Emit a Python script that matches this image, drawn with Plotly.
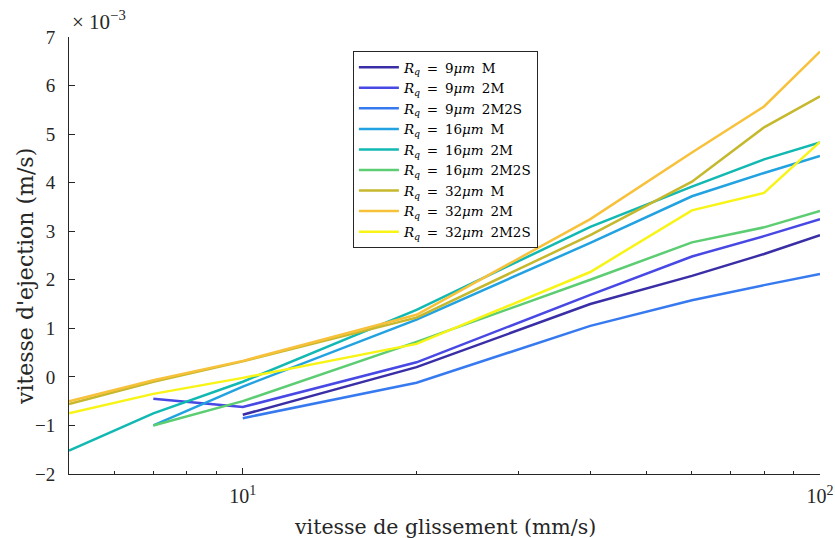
import plotly.graph_objects as go

# slip speed (mm/s)
x_all = [5, 7, 10, 20, 40, 60, 80, 100]
x_7 = [7, 10, 20, 40, 60, 80, 100]
x_10 = [10, 20, 40, 60, 80, 100]

# ejection speed (x 1e-3 m/s)
rq9_M = [-0.78, 0.2, 1.5, 2.08, 2.53, 2.92]
rq9_2M = [-0.45, -0.62, 0.3, 1.69, 2.48, 2.9, 3.25]
rq9_2M2S = [-0.85, -0.12, 1.05, 1.58, 1.89, 2.12]
rq16_M = [-1.0, -0.2, 1.18, 2.76, 3.72, 4.2, 4.55]
rq16_2M = [-1.52, -0.75, -0.1, 1.38, 3.09, 3.92, 4.48, 4.83]
rq16_2M2S = [-1.0, -0.5, 0.72, 2.0, 2.77, 3.08, 3.42]
rq32_M = [-0.56, -0.1, 0.32, 1.22, 2.92, 4.02, 5.14, 5.78]
rq32_2M = [-0.5, -0.07, 0.33, 1.28, 3.25, 4.62, 5.57, 6.7]
rq32_2M2S = [-0.75, -0.35, -0.02, 0.68, 2.16, 3.43, 3.79, 4.84]

series = [
    ("9", "M", x_10, rq9_M, "#3a2ea6"),
    ("9", "2M", x_7, rq9_2M, "#4848e4"),
    ("9", "2M2S", x_10, rq9_2M2S, "#377af0"),
    ("16", "M", x_7, rq16_M, "#22a2e0"),
    ("16", "2M", x_all, rq16_2M, "#12b8b2"),
    ("16", "2M2S", x_7, rq16_2M2S, "#5ccd72"),
    ("32", "M", x_all, rq32_M, "#c6b82c"),
    ("32", "2M", x_all, rq32_2M, "#f8c13a"),
    ("32", "2M2S", x_all, rq32_2M2S, "#f8f416"),
]

y_ticks = [-2, -1, 0, 1, 2, 3, 4, 5, 6, 7]
x_ticks = [10, 100]
x_ticklabels = ["10<sup>1</sup>", "10<sup>2</sup>"]
x_minor = [6, 7, 8, 9, 20, 30, 40, 50, 60, 70, 80, 90]

TICKFONT = "Liberation Serif"
TEXTFONT = "DejaVu Serif"
AX = "#262626"
SP = "\u2002"

fig = go.Figure()
for rq, kind, xs, ys, col in series:
    fig.add_trace(go.Scatter(
        x=xs, y=ys, mode="lines",
        line=dict(color=col, width=2.5),
        name=f"<i>R</i><sub><i>q</i></sub>{SP}={SP}{rq}<i>μm</i>{SP}{kind}",
    ))

fig.update_layout(
    width=835, height=538,
    margin=dict(l=69, r=15, t=37, b=64),
    paper_bgcolor="white", plot_bgcolor="white",
    font=dict(family=TICKFONT, size=19, color=AX),
    showlegend=True,
    legend=dict(
        x=0.378, y=0.968, xanchor="left", yanchor="top",
        bgcolor="white", bordercolor=AX, borderwidth=1,
        font=dict(family=TEXTFONT, size=13.5, color="black"),
        itemwidth=40, tracegroupgap=0,
    ),
    xaxis=dict(
        type="log", range=[0.69897, 2.0],
        tickvals=x_ticks, ticktext=x_ticklabels,
        ticks="inside", ticklen=6, tickcolor=AX,
        showline=True, linecolor=AX, linewidth=1,
        showgrid=False, zeroline=False, automargin=False,
        minor=dict(tickvals=x_minor, ticks="inside", ticklen=3, tickcolor=AX, showgrid=False),
        tickfont=dict(family=TICKFONT, size=20, color=AX),
        ticklabelstandoff=4,
    ),
    yaxis=dict(
        range=[-2, 7],
        tickvals=y_ticks,
        ticks="inside", ticklen=6, tickcolor=AX,
        showline=True, linecolor=AX, linewidth=1,
        showgrid=False, zeroline=False, automargin=False,
        tickfont=dict(family=TICKFONT, size=19, color=AX),
        ticklabelstandoff=9,
    ),
    annotations=[
        dict(
            text="× 10<sup>−3</sup>", xref="paper", yref="paper",
            x=0.0, y=1.0, xanchor="left", yanchor="bottom", yshift=1, xshift=1,
            showarrow=False, font=dict(family=TICKFONT, size=21, color=AX),
        ),
        dict(
            text="vitesse de glissement (mm/s)", xref="paper", yref="paper",
            x=0.5, y=-0.121, xanchor="center", yanchor="middle",
            showarrow=False, font=dict(family=TEXTFONT, size=20.5, color=AX),
        ),
        dict(
            text="vitesse d'ejection (m/s)", xref="paper", yref="paper",
            x=-0.0586, y=0.453, xanchor="center", yanchor="middle", textangle=-90,
            showarrow=False, font=dict(family=TEXTFONT, size=22, color=AX),
        ),
    ],
)

fig.write_html(
    "out.html",
    config={"displayModeBar": False},
    post_script="document.body.style.margin='0';document.body.style.overflow='hidden';",
)
